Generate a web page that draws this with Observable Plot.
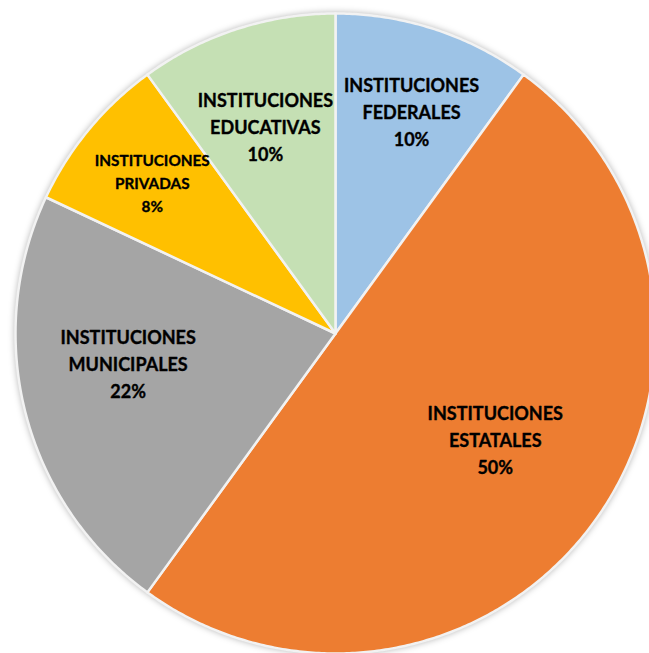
<!DOCTYPE html>
<html>
<head>
<meta charset="utf-8">
<script src="https://cdn.jsdelivr.net/npm/d3@7"></script>
<script src="https://cdn.jsdelivr.net/npm/@observablehq/plot@0.6"></script>
<style>
  html, body { margin: 0; padding: 0; background: #fff; overflow: hidden; }
  #chart svg { display: block; }
  #chart g.slices { filter: drop-shadow(0 0 3px rgba(0,0,0,0.28)); }
</style>
</head>
<body>
<div id="chart"></div>
<script>
// ---- data ----
const categories = ["FEDERALES", "ESTATALES", "MUNICIPALES", "PRIVADAS", "EDUCATIVAS"];
const values = [10, 50, 22, 8, 10];
const colors = ["#9DC3E6", "#ED7D31", "#A5A5A5", "#FFC000", "#C5E0B4"];
// label layout (radius as fraction of pie radius, angle shift in degrees, font size)
const labelRadius = [0.73, 0.60, 0.655, 0.74, 0.68];
const labelShift = [1, -2.3, 6, -0.3, -0.8];
const labelSize = [18, 18, 18, 15.3, 18];

const W = 649, H = 653;
const cx = 335, cy = 333, R = 320;

const total = d3.sum(values);
let acc = 0;
const slices = categories.map((c, i) => {
  const a0 = acc / total * 360;
  acc += values[i];
  const a1 = acc / total * 360;
  return {category: c, value: values[i], a0, a1, i};
});

const rad = a => a * Math.PI / 180;
const slicePts = [];
for (const s of slices) {
  slicePts.push({category: s.category, x: 0, y: 0});
  const n = Math.max(2, Math.ceil((s.a1 - s.a0) * 2));
  for (let k = 0; k <= n; k++) {
    const a = rad(s.a0 + (s.a1 - s.a0) * k / n);
    slicePts.push({category: s.category, x: Math.sin(a), y: Math.cos(a)});
  }
  slicePts.push({category: s.category, x: 0, y: 0});
}

const labels = slices.map(s => {
  const a = rad((s.a0 + s.a1) / 2 + labelShift[s.i]);
  const r = labelRadius[s.i];
  return {
    x: r * Math.sin(a),
    y: r * Math.cos(a),
    text: `INSTITUCIONES\n${s.category}\n${Math.round(s.value / total * 100)}%`,
    size: labelSize[s.i]
  };
});

const plot = Plot.plot({
  width: W,
  height: H,
  margin: 0,
  x: {domain: [-cx / R, (W - cx) / R], axis: null},
  y: {domain: [-(H - cy) / R, cy / R], axis: null},
  color: {domain: categories, range: colors},
  style: {background: "#fff", overflow: "hidden"},
  marks: [
    Plot.line(slicePts, {
      x: "x", y: "y", z: "category", fill: "category",
      stroke: "#f2f2f2", strokeWidth: 2.5, strokeLinejoin: "round",
      className: "slices"
    }),
    Plot.text(labels, {
      x: "x", y: "y", text: "text", fontSize: "size",
      fontWeight: "bold", fontFamily: "Lato, 'Open Sans', sans-serif",
      fill: "#000", lineHeight: 1.5, textAnchor: "middle", dy: -2,
      stroke: "#000", strokeWidth: 0.35
    })
  ]
});
plot.querySelectorAll("g[aria-label='line']").forEach(g => g.classList.add("slices"));
document.getElementById("chart").appendChild(plot);
</script>
</body>
</html>
